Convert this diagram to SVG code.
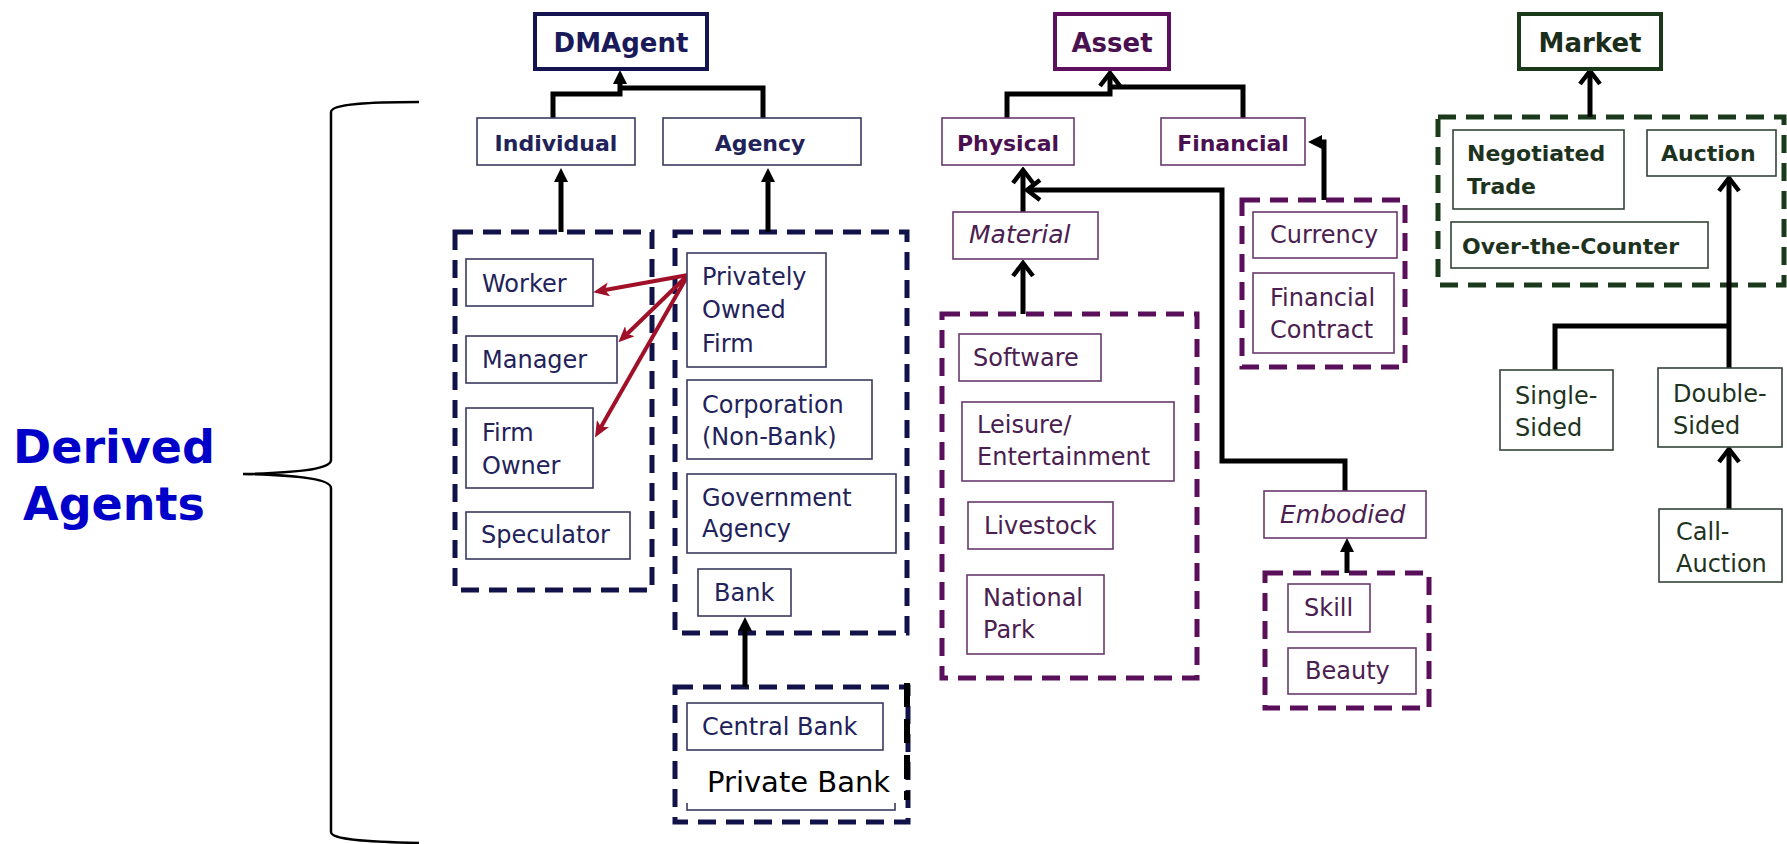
<svg xmlns="http://www.w3.org/2000/svg" width="1787" height="844" viewBox="0 0 1787 844">
<style>
  text { font-family: "DejaVu Sans", Verdana, sans-serif; }
  .hd { font-weight: bold; font-size: 26px; text-anchor: middle; }
  .sub { font-weight: bold; font-size: 22px; }
  .reg { font-size: 24px; }
  .it { font-size: 25px; font-style: italic; }
  .a { fill: #22225a; }
  .p { fill: #4a2050; }
  .g { fill: #1e331e; }
  .boxA { fill: #fff; stroke: #3a3a60; stroke-width: 1.6; }
  .boxP { fill: #fff; stroke: #6a3a6e; stroke-width: 1.6; }
  .boxG { fill: #fff; stroke: #33443a; stroke-width: 1.6; }
  .dashA { fill: none; stroke: #12124a; stroke-width: 5; stroke-dasharray: 18 10; }
  .dashP { fill: none; stroke: #5a0f5a; stroke-width: 5; stroke-dasharray: 18 10; }
  .dashG { fill: none; stroke: #1b3a1b; stroke-width: 5; stroke-dasharray: 18 10; }
  .conn { fill: none; stroke: #000; stroke-width: 5; }
  .red { fill: none; stroke: #a01028; stroke-width: 4; }
  .big { font-weight: bold; font-size: 46px; fill: #0000c8; text-anchor: middle; }
</style>
<defs>
  <marker id="tri" viewBox="0 0 14 14" refX="2" refY="7" markerWidth="14" markerHeight="14" markerUnits="userSpaceOnUse" orient="auto">
    <path d="M0,0 L14,7 L0,14 z" fill="#000"/>
  </marker>
  <marker id="chev" viewBox="0 0 18 24" refX="15" refY="12" markerWidth="18" markerHeight="24" markerUnits="userSpaceOnUse" orient="auto">
    <path d="M2,2 L15,12 L2,22" fill="none" stroke="#000" stroke-width="4.5"/>
  </marker>
  <marker id="redtri" viewBox="0 0 16 14" refX="4" refY="7" markerWidth="16" markerHeight="14" markerUnits="userSpaceOnUse" orient="auto">
    <path d="M0,0 L16,7 L0,14 L4,7 z" fill="#a01028"/>
  </marker>
</defs>

<!-- Brace and label -->
<g id="derived-agents">
  <path d="M419,102 C370,102 331,104 331,112 L331,460 C331,470 290,473 243,474 C290,475 331,478 331,488 L331,832 C331,840 370,842 419,843" fill="none" stroke="#000" stroke-width="2.5"/>
  <text class="big" x="114" y="463">Derived<tspan x="114" dy="57">Agents</tspan></text>
</g>

<!-- Dashed groups -->
<g id="group-individual"><rect class="dashA" x="455" y="232" width="197" height="358"/></g>
<g id="group-agency"><rect class="dashA" x="675" y="232" width="232" height="401"/></g>
<g id="group-bank">
  <rect class="dashA" x="675" y="687" width="233" height="135"/>
  <line x1="907" y1="683" x2="907" y2="800" stroke="#000" stroke-width="6" stroke-dasharray="24 12"/>
</g>
<g id="group-material"><rect class="dashP" x="942" y="314" width="255" height="364"/></g>
<g id="group-financial"><rect class="dashP" x="1242" y="200" width="163" height="167"/></g>
<g id="group-embodied"><rect class="dashP" x="1265" y="573" width="164" height="135"/></g>
<g id="group-market"><rect class="dashG" x="1438" y="117" width="346" height="168"/></g>

<!-- Connectors -->
<g id="connectors">
  <path class="conn" d="M553,118 V94 H620 V82" marker-end="url(#tri)"/>
  <path class="conn" d="M763,118 V88 H620"/>
  <path class="conn" d="M561,232 V180" marker-end="url(#tri)"/>
  <path class="conn" d="M768,232 V180" marker-end="url(#tri)"/>
  <path class="conn" d="M745,687 V629" marker-end="url(#tri)"/>
  <path class="red" d="M688,275 L605,290" marker-end="url(#redtri)"/>
  <path class="red" d="M688,275 L627,334" marker-end="url(#redtri)"/>
  <path class="red" d="M688,275 L601,427" marker-end="url(#redtri)"/>

  <path class="conn" d="M1007,118 V94 H1110 V73" marker-end="url(#chev)"/>
  <path class="conn" d="M1243,118 V87 H1110"/>
  <path class="conn" d="M1324,200 V142 H1320" marker-end="url(#tri)"/>
  <path class="conn" d="M1023,212 V170" marker-end="url(#chev)"/>
  <path class="conn" d="M1023,314 V263" marker-end="url(#chev)"/>
  <path class="conn" d="M1345,491 V461 H1222 V190 H1027" marker-end="url(#chev)"/>
  <path class="conn" d="M1347,573 V550" marker-end="url(#tri)"/>

  <path class="conn" d="M1590,117 V71" marker-end="url(#chev)"/>
  <path class="conn" d="M1729,368 V178" marker-end="url(#chev)"/>
  <path class="conn" d="M1555,370 V326 H1729"/>
  <path class="conn" d="M1729,509 V449" marker-end="url(#chev)"/>
</g>

<!-- Agent nodes -->
<g id="dmagent">
  <rect x="535" y="14" width="172" height="55" fill="#fff" stroke="#141450" stroke-width="4"/>
  <text class="hd" x="621" y="52" fill="#1a1a5a">DMAgent</text>
</g>
<g id="individual">
  <rect class="boxA" x="477" y="118" width="158" height="47"/>
  <text class="sub a" x="556" y="151" text-anchor="middle">Individual</text>
</g>
<g id="agency">
  <rect class="boxA" x="663" y="118" width="198" height="47"/>
  <text class="sub a" x="760" y="151" text-anchor="middle">Agency</text>
</g>
<g id="worker">
  <rect class="boxA" x="466" y="259" width="127" height="47"/>
  <text class="reg a" x="482" y="292">Worker</text>
</g>
<g id="manager">
  <rect class="boxA" x="466" y="336" width="151" height="47"/>
  <text class="reg a" x="482" y="368">Manager</text>
</g>
<g id="firm-owner">
  <rect class="boxA" x="466" y="408" width="127" height="80"/>
  <text class="reg a" x="482" y="441">Firm<tspan x="482" dy="33">Owner</tspan></text>
</g>
<g id="speculator">
  <rect class="boxA" x="466" y="512" width="164" height="47"/>
  <text class="reg a" x="481" y="543">Speculator</text>
</g>
<g id="privately-owned-firm">
  <rect class="boxA" x="687" y="253" width="139" height="114"/>
  <text class="reg a" x="702" y="285">Privately<tspan x="702" dy="33">Owned</tspan><tspan x="702" dy="34">Firm</tspan></text>
</g>
<g id="corporation">
  <rect class="boxA" x="687" y="380" width="185" height="79"/>
  <text class="reg a" x="702" y="413">Corporation<tspan x="702" dy="32">(Non-Bank)</tspan></text>
</g>
<g id="government-agency">
  <rect class="boxA" x="687" y="474" width="209" height="79"/>
  <text class="reg a" x="702" y="506">Government<tspan x="702" dy="31">Agency</tspan></text>
</g>
<g id="bank">
  <rect class="boxA" x="698" y="569" width="93" height="47"/>
  <text class="reg a" x="714" y="601">Bank</text>
</g>
<g id="central-bank">
  <rect class="boxA" x="687" y="703" width="196" height="47"/>
  <text class="reg a" x="702" y="735">Central Bank</text>
</g>
<g id="private-bank">
  <rect class="boxA" x="687" y="762" width="208" height="48"/>
  <rect x="684" y="757" width="218" height="46" fill="#fff"/>
  <text x="707" y="792" style="font-size:29px" fill="#000">Private Bank</text>
</g>

<!-- Asset nodes -->
<g id="asset">
  <rect x="1055" y="14" width="114" height="55" fill="#fff" stroke="#5e105e" stroke-width="4"/>
  <text class="hd" x="1112" y="52" fill="#4a1050">Asset</text>
</g>
<g id="physical">
  <rect class="boxP" x="942" y="118" width="132" height="47"/>
  <text class="sub" x="1008" y="151" text-anchor="middle" fill="#4a1050">Physical</text>
</g>
<g id="financial">
  <rect class="boxP" x="1161" y="118" width="144" height="47"/>
  <text class="sub" x="1233" y="151" text-anchor="middle" fill="#4a1050">Financial</text>
</g>
<g id="material">
  <rect class="boxP" x="953" y="212" width="145" height="47"/>
  <text class="it p" x="969" y="243">Material</text>
</g>
<g id="currency">
  <rect class="boxP" x="1253" y="212" width="144" height="46"/>
  <text class="reg p" x="1270" y="243">Currency</text>
</g>
<g id="financial-contract">
  <rect class="boxP" x="1253" y="273" width="141" height="80"/>
  <text class="reg p" x="1270" y="306">Financial<tspan x="1270" dy="32">Contract</tspan></text>
</g>
<g id="software">
  <rect class="boxP" x="959" y="334" width="142" height="47"/>
  <text class="reg p" x="973" y="366">Software</text>
</g>
<g id="leisure">
  <rect class="boxP" x="962" y="402" width="212" height="79"/>
  <text class="reg p" x="977" y="433">Leisure/<tspan x="977" dy="32">Entertainment</tspan></text>
</g>
<g id="livestock">
  <rect class="boxP" x="968" y="502" width="145" height="47"/>
  <text class="reg p" x="984" y="534">Livestock</text>
</g>
<g id="national-park">
  <rect class="boxP" x="967" y="575" width="137" height="79"/>
  <text class="reg p" x="983" y="606">National<tspan x="983" dy="32">Park</tspan></text>
</g>
<g id="embodied">
  <rect class="boxP" x="1264" y="491" width="162" height="47"/>
  <text class="it p" x="1280" y="523">Embodied</text>
</g>
<g id="skill">
  <rect class="boxP" x="1288" y="584" width="82" height="48"/>
  <text class="reg p" x="1304" y="616">Skill</text>
</g>
<g id="beauty">
  <rect class="boxP" x="1288" y="648" width="128" height="46"/>
  <text class="reg p" x="1305" y="679">Beauty</text>
</g>

<!-- Market nodes -->
<g id="market">
  <rect x="1519" y="14" width="142" height="55" fill="#fff" stroke="#1b3a1b" stroke-width="4"/>
  <text class="hd" x="1590" y="52" fill="#1b2e1b">Market</text>
</g>
<g id="negotiated-trade">
  <rect class="boxG" x="1453" y="130" width="171" height="79"/>
  <text class="sub g" x="1467" y="161">Negotiated<tspan x="1467" dy="33">Trade</tspan></text>
</g>
<g id="auction">
  <rect class="boxG" x="1647" y="130" width="129" height="46"/>
  <text class="sub g" x="1661" y="161">Auction</text>
</g>
<g id="over-the-counter">
  <rect class="boxG" x="1451" y="222" width="257" height="46"/>
  <text class="sub g" x="1462" y="254">Over-the-Counter</text>
</g>
<g id="single-sided">
  <rect class="boxG" x="1500" y="370" width="113" height="80"/>
  <text class="reg g" x="1515" y="404">Single-<tspan x="1515" dy="32">Sided</tspan></text>
</g>
<g id="double-sided">
  <rect class="boxG" x="1658" y="368" width="124" height="79"/>
  <text class="reg g" x="1673" y="402">Double-<tspan x="1673" dy="32">Sided</tspan></text>
</g>
<g id="call-auction">
  <rect class="boxG" x="1659" y="509" width="123" height="73"/>
  <text class="reg g" x="1676" y="540">Call-<tspan x="1676" dy="32">Auction</tspan></text>
</g>
</svg>
